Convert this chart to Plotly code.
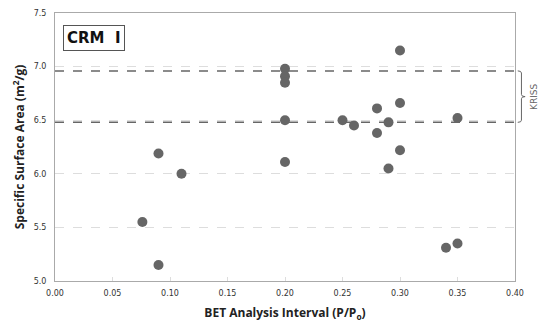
import plotly.graph_objects as go

# Data
interval = [0.076, 0.09, 0.09, 0.11, 0.20, 0.20, 0.20, 0.20, 0.20,
            0.25, 0.26, 0.28, 0.28, 0.29, 0.29, 0.30, 0.30, 0.30,
            0.34, 0.35, 0.35]
ssa = [5.55, 5.15, 6.19, 6.00, 6.98, 6.91, 6.85, 6.50, 6.11,
       6.50, 6.45, 6.61, 6.38, 6.48, 6.05, 7.15, 6.66, 6.22,
       5.31, 5.35, 6.52]
kriss_bounds = [6.48, 6.96]
x_ticks = [0.00, 0.05, 0.10, 0.15, 0.20, 0.25, 0.30, 0.35, 0.40]
y_ticks = [5.0, 5.5, 6.0, 6.5, 7.0, 7.5]

fig = go.Figure()
fig.add_trace(go.Scatter(
    x=interval, y=ssa, mode="markers",
    marker=dict(size=10, color="#666666"),
    showlegend=False, hoverinfo="x+y"))

axis_font = dict(family="DejaVu Sans", size=8, color="#333333")
title_font = dict(family="Open Sans", size=12, color="#222222", weight="bold")

fig.update_xaxes(
    range=[0, 0.4], tickvals=x_ticks,
    ticktext=[f"{v:.2f}" for v in x_ticks],
    tickfont=axis_font, showgrid=False, zeroline=False,
    showline=True, linecolor="#aaaaaa", linewidth=1, mirror=True,
    ticks="inside", ticklen=4, tickcolor="#dddddd",
    ticklabelstandoff=4, automargin=False,
    title=dict(text="BET Analysis Interval (P/P<sub>o</sub>)", font=title_font, standoff=12),
)
fig.update_yaxes(
    range=[5.0, 7.5], tickvals=y_ticks,
    ticktext=[f"{v:.1f}" for v in y_ticks],
    tickfont=axis_font, showgrid=True, gridcolor="#dddddd", griddash="dash",
    gridwidth=1, zeroline=False,
    showline=True, linecolor="#aaaaaa", linewidth=1, mirror=True,
    ticks="", ticklabelstandoff=6, automargin=False,
    title=dict(text="Specific Surface Area (m<sup>2</sup>/g)", font=title_font, standoff=6),
)

shapes = []
for b in kriss_bounds:
    shapes.append(dict(type="line", xref="paper", yref="y", x0=0, x1=1.006,
                       y0=b, y1=b, line=dict(color="#666666", width=1.5, dash="dash")))
lo, hi = kriss_bounds
mid = (lo + hi) / 2
d = 0.02
xa, xb, xc = 1.006, 1.014, 1.022
path = (f"M {xa},{hi} Q {xb},{hi} {xb},{hi-d} L {xb},{mid+d} Q {xb},{mid} {xc},{mid} "
        f"Q {xb},{mid} {xb},{mid-d} L {xb},{lo+d} Q {xb},{lo} {xa},{lo}")
shapes.append(dict(type="path", xref="paper", yref="y", path=path,
                   line=dict(color="#666666", width=1)))

fig.update_layout(
    width=538, height=325,
    margin=dict(l=55, r=23, t=13, b=44),
    paper_bgcolor="white", plot_bgcolor="white",
    shapes=shapes,
    annotations=[
        dict(text="CRM  I", xref="paper", yref="paper", x=0.017, y=0.955,
             xanchor="left", yanchor="top", showarrow=False,
             font=dict(family="DejaVu Sans", size=15, color="#111111", weight="bold"),
             bordercolor="#555555", borderwidth=1, borderpad=3, bgcolor="white"),
        dict(text="KRISS", xref="paper", yref="y", x=1.04, y=mid,
             xanchor="center", yanchor="middle", textangle=-90, showarrow=False,
             font=dict(family="DejaVu Sans", size=9, color="#666666")),
    ],
)

fig.write_html("out.html")
